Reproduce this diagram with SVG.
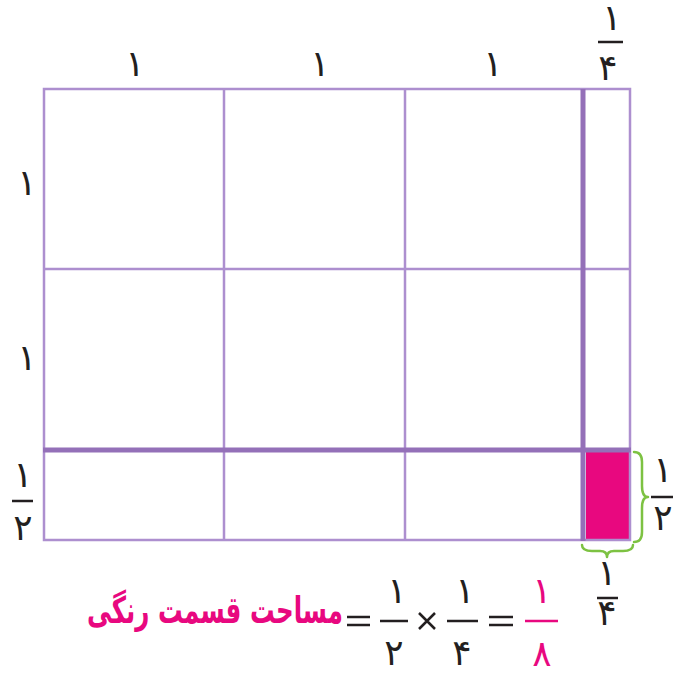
<svg xmlns="http://www.w3.org/2000/svg" width="684" height="673" viewBox="0 0 684 673">
<style>
.thin{stroke:#ad8fcf;stroke-width:2.5;fill:none}
.thick{stroke:#9470b8;stroke-width:5;fill:none}
.brace{stroke:#7dc242;stroke-width:2.5;fill:none;stroke-linecap:round;stroke-linejoin:round}
.bar{stroke:#231f20;stroke-width:2.5}
.pbar{stroke:#e8087f;stroke-width:2.5}
.d{font-family:"DejaVu Sans",sans-serif;font-size:36px;fill:#231f20;text-anchor:middle}
.pd{font-family:"DejaVu Sans",sans-serif;font-size:36px;fill:#e8087f;text-anchor:middle}
.t{font-family:"DejaVu Sans",sans-serif;font-size:37px;font-weight:bold;fill:#e8087f;text-anchor:middle}
</style>
<rect width="684" height="673" fill="#ffffff"/>
<g id="shaded">
<rect x="586" y="452" width="44" height="87" fill="#e8087f"/>
</g>
<g id="grid">
<rect class="thin" x="44" y="89" width="586" height="451"/>
<line class="thin" x1="224" y1="89" x2="224" y2="540"/>
<line class="thin" x1="405" y1="89" x2="405" y2="540"/>
<line class="thin" x1="44" y1="269" x2="630" y2="269"/>
<line class="thick" x1="583" y1="89" x2="583" y2="541"/>
<line class="thick" x1="43" y1="450" x2="631" y2="450"/>
</g>
<g id="connectors">
<path class="brace" d="M634,452 Q642,452 642,462 V486 Q642,497 648,497 Q642,497 642,508 V532 Q642,542 634,542"/>
<path class="brace" d="M582,545 Q582,551 592,551 H600 Q607,551 607,557 Q607,551 614,551 H623 Q633,551 633,545"/>
</g>
<g id="top-labels">
<text class="d" x="135" y="76">۱</text>
<text class="d" x="320" y="76">۱</text>
<text class="d" x="493" y="76">۱</text>
<text class="d" x="612" y="30">۱</text>
<line class="bar" x1="598" y1="42" x2="623" y2="42"/>
<text class="d" x="608" y="80">۴</text>
</g>
<g id="left-labels">
<text class="d" x="27" y="195">۱</text>
<text class="d" x="27" y="370">۱</text>
<text class="d" x="23" y="487">۱</text>
<line class="bar" x1="12" y1="501" x2="33" y2="501"/>
<text class="d" x="23" y="540">۲</text>
</g>
<g id="right-label">
<text class="d" x="663" y="482">۱</text>
<line class="bar" x1="651" y1="497" x2="673" y2="497"/>
<text class="d" x="663" y="530">۲</text>
</g>
<g id="bottom-label">
<text class="d" x="607" y="585">۱</text>
<line class="bar" x1="597" y1="598" x2="618" y2="598"/>
<text class="d" x="607" y="625">۴</text>
</g>
<g id="formula">
<text class="t" x="215" y="623" textLength="256" lengthAdjust="spacingAndGlyphs">مساحت قسمت رنگی</text>
<line class="bar" x1="347" y1="617" x2="370" y2="617"/>
<line class="bar" x1="347" y1="625" x2="370" y2="625"/>
<text class="d" x="397" y="603">۱</text>
<line class="bar" x1="380" y1="621" x2="408" y2="621"/>
<text class="d" x="394" y="665">۲</text>
<path class="bar" d="M419,613 L435,629 M435,613 L419,629" fill="none"/>
<text class="d" x="465" y="603">۱</text>
<line class="bar" x1="447" y1="621" x2="478" y2="621"/>
<text class="d" x="462" y="665">۴</text>
<line class="bar" x1="489" y1="617" x2="513" y2="617"/>
<line class="bar" x1="489" y1="625" x2="513" y2="625"/>
<text class="pd" x="542" y="603">۱</text>
<line class="pbar" x1="525" y1="621" x2="558" y2="621"/>
<text class="pd" x="542" y="666">۸</text>
</g>
</svg>
